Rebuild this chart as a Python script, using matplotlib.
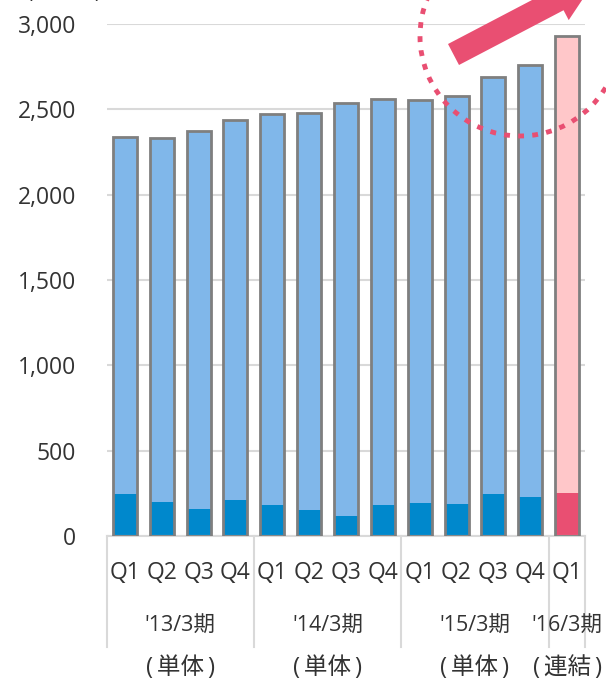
import matplotlib
matplotlib.use("Agg")
import matplotlib.pyplot as plt
from matplotlib.patches import Circle, FancyArrow
from matplotlib.lines import Line2D
import numpy as np

plt.rcParams['font.family'] = ['Open Sans', 'Noto Sans CJK JP', 'DejaVu Sans']

# data
quarters = ["Q1", "Q2", "Q3", "Q4", "Q1", "Q2", "Q3", "Q4",
            "Q1", "Q2", "Q3", "Q4", "Q1"]
totals = [2340, 2333, 2374, 2440, 2474, 2480, 2538, 2561,
          2552, 2579, 2690, 2760, 2930]
bottoms = [245, 199, 158, 212, 184, 155, 115, 179,
           191, 188, 246, 229, 254]
years = ["'13/3期", "'14/3期", "'15/3期", "'16/3期"]
kinds = ["(単体)", "(単体)", "(単体)", "(連結)"]
group_sizes = [4, 4, 4, 1]

dark_blue = "#0088CC"
light_blue = "#80B7EA"
dark_pink = "#E94F72"
light_pink = "#FFC7C9"
edge_grey = "#7F7F7F"
text_col = "#333333"

W, H = 606, 681
fig = plt.figure(figsize=(W / 100, H / 100), dpi=100)
ax = fig.add_axes([106.5 / W, 1 - 536 / H, (585.5 - 106.5) / W, (536 - 24) / H])

x = np.arange(len(totals))
tops = [t - b for t, b in zip(totals, bottoms)]
c_bot = [dark_blue] * 12 + [dark_pink]
c_top = [light_blue] * 12 + [light_pink]
bw = 0.65
ax.bar(x, bottoms, width=bw, color=c_bot, linewidth=0, zorder=2)
ax.bar(x, tops, bottom=bottoms, width=bw, color=c_top, linewidth=0, zorder=2)
ax.bar(x, totals, width=bw, fill=False, edgecolor=edge_grey, linewidth=2, zorder=3)

ax.set_xlim(-0.5, len(totals) - 0.5)
ax.set_ylim(0, 3000)
ax.set_yticks(np.arange(0, 3001, 500))
ax.set_yticklabels([f"{v:,}" for v in range(0, 3001, 500)])
ax.tick_params(axis='y', length=0, pad=22, labelsize=16.5, labelcolor=text_col)
ax.set_xticks([])
ax.grid(axis='y', color="#D9D9D9", linewidth=1.5, zorder=0)
ax.set_axisbelow(True)
for s in ['left', 'right', 'top']:
    ax.spines[s].set_visible(False)
ax.spines['bottom'].set_color("#D9D9D9")
ax.spines['bottom'].set_linewidth(1.5)

# category labels
trans = ax.get_xaxis_transform()
for i, q in enumerate(quarters):
    ax.text(i, -0.072, q, transform=trans, ha='center', va='center',
            fontsize=16.5, color=text_col)

start = 0
bounds = [-0.5]
for yr, kd, n in zip(years, kinds, group_sizes):
    c = start + (n - 1) / 2
    ax.text(c, -0.176, yr, transform=trans, ha='center', va='center',
            fontsize=15.5, color=text_col)
    ax.text(c, -0.258, kd.replace("(", "(\u2009").replace(")", "\u2009)"),
            transform=trans, ha='center', va='center', fontsize=17, color=text_col)
    start += n
    bounds.append(start - 0.5)
for b in bounds:
    ax.add_line(Line2D([b, b], [0, -0.217], transform=trans, color="#D9D9D9",
                       linewidth=1.5, clip_on=False))

# overlay decorations in pixel coordinates
ov = fig.add_axes([0, 0, 1, 1], zorder=5)
ov.set_xlim(0, W)
ov.set_ylim(H, 0)
ov.axis('off')
ov.patch.set_alpha(0)
ov.add_patch(Circle((520, 36), 100, fill=False, edgecolor=dark_pink,
                    linewidth=3.5, linestyle=(0, (1.2, 1.7))))
ux, uy = 0.886, -0.464
ov.add_patch(FancyArrow(453.5, 54.5, 160 * ux, 160 * uy, width=23.7,
                        head_width=46, head_length=42, length_includes_head=True,
                        color=dark_pink, linewidth=0))
ov.text(64, 3, "(百万円)", ha='center', va='bottom', fontsize=15, color=text_col)

fig.savefig("out.png", dpi=100)
